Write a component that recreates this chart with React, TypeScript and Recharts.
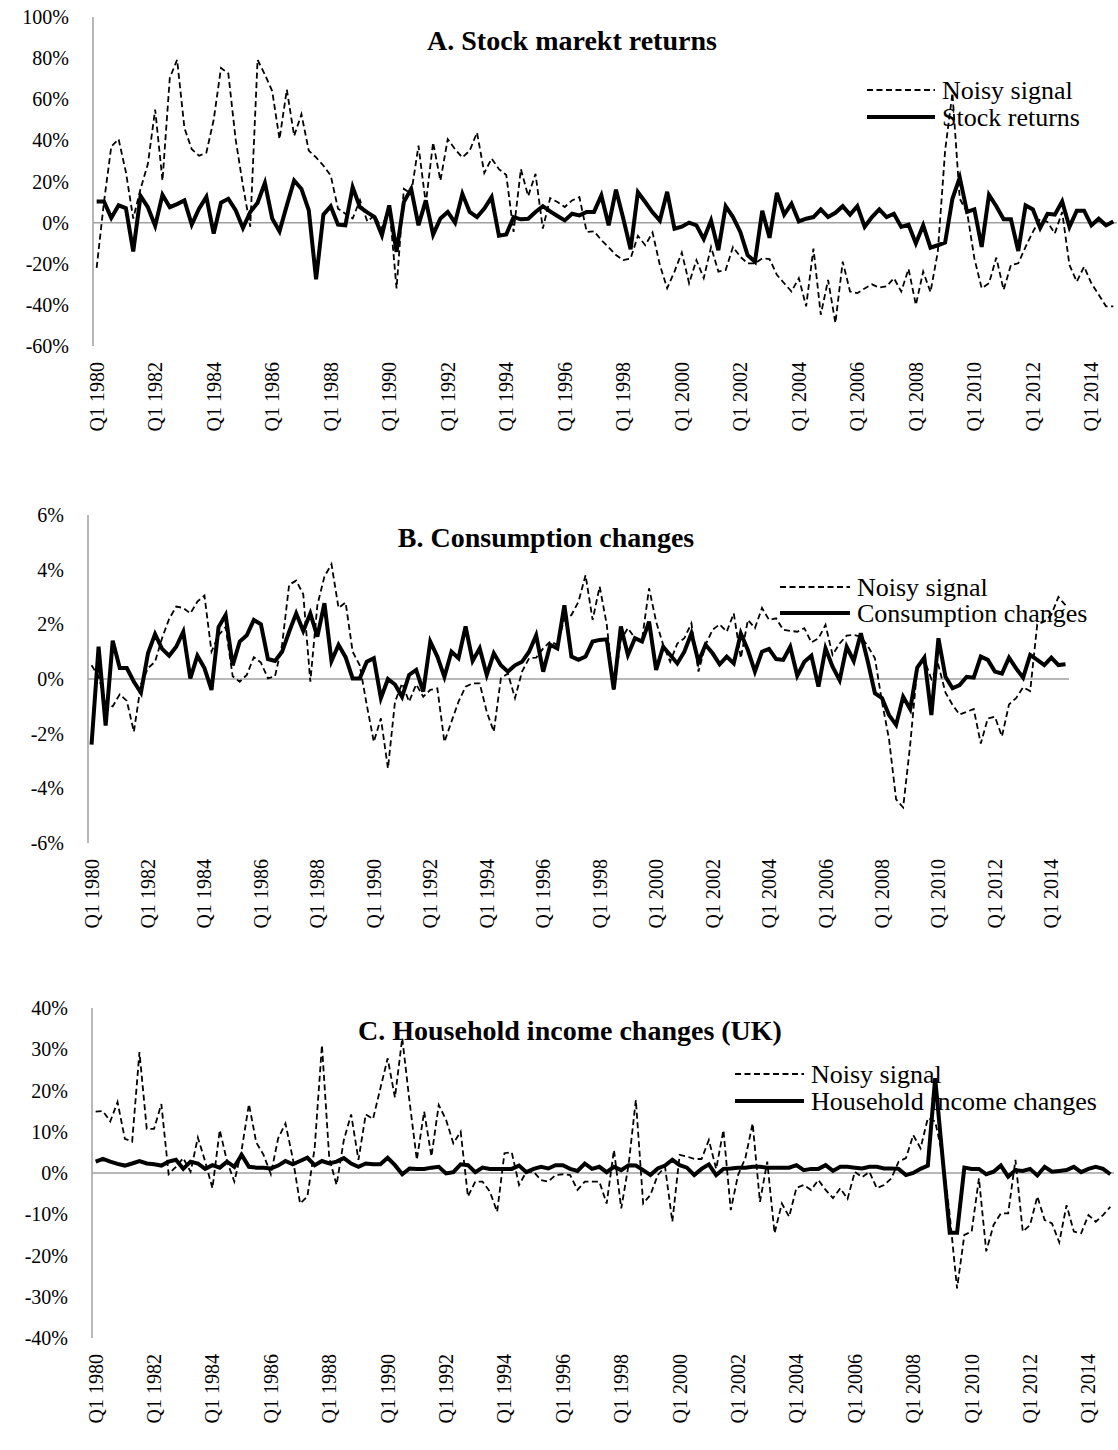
import React from "react";
import { LineChart, Line, XAxis, YAxis, ReferenceLine } from "recharts";

const FONT = '"Liberation Serif", "Times New Roman", serif';
const AXIS_GRAY = "#a0a0a0";

// quarterly categories, Q1 1980 onwards
const makeQuarters = (count: number) =>
  Array.from({ length: count }, (_, k) => `Q${(k % 4) + 1} ${1980 + Math.floor(k / 4)}`);

const quartersA = makeQuarters(140);
const quartersB = makeQuarters(139);
const quartersC = makeQuarters(140);

// A. stock market returns (%)
const stockNoisy = [
  -22, 10, 37, 40.6, 24.5, 2, 16.4, 28.5, 55, 20.4, 70.4, 79.2, 46, 35.7, 32.5, 34, 50, 75.2, 72.5, 40.6,
  18, -2, 79.2, 72, 64, 40.6, 64.7, 42.2, 52.7, 35, 31.7, 27.7, 22.9, 6.8, 4.3, 2, 11, 0.6, 3.5, -3,
  8.4, -32, 16.4, 14, 37.4, 9.2, 39, 20.4, 40.6, 35.7, 31.7, 35, 43.8, 24.2, 31.2, 26, 23.2, -4.5, 26, 12.9,
  23.7, -2.9, 11.9, 10, 7.6, 10.8, 12.4, -4.5, -4.2, -8.5, -12, -15.8, -18.2, -17.4, -6.4, -11, -4.8, -20.6, -31.9, -23.8,
  -14.5, -29.5, -18.2, -27, -11.8, -23.8, -23, -11.8, -16.6, -19.8, -19.8, -17.4, -17.7, -25.4, -29.5, -33.5, -27, -40.7, -12.6, -44.8,
  -27.9, -48.8, -19, -33.5, -34.3, -32, -30, -31.6, -31, -27, -33.5, -22.5, -40, -23.8, -33.8, -14.2, 35, 63, 11.6, 5.2,
  -17.4, -31.9, -29.5, -17, -32.7, -20.6, -19.8, -11.8, -4.5, 1.9, 0.3, -5.3, 5.2, -20.6, -28.7, -21.4, -29.5, -35.1, -40.7, -40.7,
];
const stockReturns = [
  10.3, 10.3, 2.3, 8.4, 7, -14, 13, 7.5, -1.6, 13.5, 7.5, 9, 10.8, -1, 6.8, 12.5, -5.3, 9.7, 11.6, 6,
  -2.6, 5.2, 9.7, 19.3, 2, -4.2, 8.4, 20.5, 16.4, 6, -27.5, 3.9, 8, -1, -1.3, 17.2, 7.5, 5, 2.7, -6.1,
  8.4, -14.2, 10, 16.4, -1.3, 10.8, -5.8, 2, 5.2, 0, 14, 5.2, 2.7, 6.8, 12.4, -6.4, -5.8, 2.7, 1.6, 1.9,
  5.2, 8, 5.5, 3.2, 1.1, 4.3, 3.5, 5.2, 5.2, 13.2, -1.3, 16, 2, -13, 14.8, 10, 5, 1, 15, -3,
  -2, 0, -1.3, -8, 1, -13.4, 8, 2.7, -4.5, -15.8, -19, 5.8, -7.4, 14.5, 3.9, 9.2, 0.6, 1.9, 2.7, 6.4,
  2.7, 4.8, 8, 3.9, 8, -2, 2.7, 6.4, 2.7, 4.3, -2.1, -1, -10.1, -1.3, -12.2, -11, -9.7, 11.6, 22, 5.2,
  6.4, -11.8, 13.5, 8, 1.6, 1.6, -13.8, 8.4, 6.4, -2.6, 4.3, 3.9, 10.3, -2.1, 5.8, 5.8, -1.3, 1.9, -1.3, 0.6,
];

// B. consumption changes (%)
const consNoisy = [
  0.5, 0.1, -0.9, -1.0, -0.56, -0.8, -1.93, -0.2, 0.4, 0.63, 1.5, 2.2, 2.65, 2.6, 2.4, 2.83, 3.05, 1.0, 1.6, 1.9,
  0.1, -0.1, 0.15, 0.8, 0.6, 0.02, 0.1, 1.25, 3.45, 3.6, 3.1, -0.1, 2.7, 3.75, 4.2, 2.6, 2.8, 1.0, 0.5, -0.95,
  -2.3, -1.44, -3.27, -0.83, -0.16, -0.83, -0.2, -0.65, -0.4, -0.34, -2.3, -1.56, -0.83, -0.28, -0.16, -0.16, -1.2, -1.93, 0.02, 0.2,
  -0.7, 0.27, 0.76, 0.78, 1.12, 1.37, 1.25, 2.2, 2.34, 2.83, 3.8, 2.16, 3.38, 2.0, -0.4, 1.43, 1.86, 1.49, 1.43, 3.32,
  2.1, 1.25, 0.63, 1.3, 1.49, 2.04, 0.27, 1.25, 1.8, 2.0, 1.73, 2.4, 0.76, 2.16, 1.86, 2.6, 2.16, 2.22, 1.8, 1.76,
  1.73, 1.86, 1.34, 1.49, 1.98, 0.88, 1.3, 1.59, 1.61, 1.55, 1.2, 0.76, -0.83, -2.2, -4.4, -4.7, -2.4, 0.4, 0.7, 0,
  0.5, -0.5, -0.95, -1.3, -1.2, -1.1, -2.36, -1.44, -1.38, -2.1, -0.93, -0.7, -0.3, -0.44, 2.0, 2.1, 2.35, 3.0, 2.7,
];
const consChanges = [
  -2.4, 1.18, -1.7, 1.4, 0.4, 0.4, -0.1, -0.5, 0.94, 1.64, 1.1, 0.85, 1.18, 1.73, 0.02, 0.85, 0.4, -0.4, 1.9, 2.34,
  0.5, 1.37, 1.6, 2.16, 2.0, 0.73, 0.66, 1.0, 1.73, 2.4, 1.76, 2.4, 1.55, 2.77, 0.66, 1.25, 0.8, 0.02, 0.02, 0.63,
  0.76, -0.7, 0, -0.2, -0.65, 0.15, 0.33, -0.46, 1.37, 0.82, 0.08, 1.0, 0.76, 1.92, 0.66, 1.12, 0.15, 0.94, 0.5, 0.27,
  0.5, 0.63, 1.0, 1.6, 0.27, 1.25, 1.12, 2.7, 0.82, 0.7, 0.82, 1.37, 1.43, 1.45, -0.38, 1.92, 0.88, 1.49, 1.37, 2.1,
  0.33, 1.18, 0.88, 0.57, 1.0, 1.67, 0.63, 1.25, 0.94, 0.54, 0.82, 0.57, 1.67, 1.06, 0.27, 1.0, 1.1, 0.73, 0.7, 1.18,
  0.12, 0.63, 0.85, -0.28, 1.12, 0.45, -0.04, 1.18, 0.66, 1.67, 0.63, -0.52, -0.7, -1.32, -1.68, -0.65, -1.1, 0.42, 0.78, -1.32,
  1.49, 0.08, -0.34, -0.22, 0.08, 0.05, 0.82, 0.7, 0.27, 0.2, 0.78, 0.39, 0.05, 0.88, 0.7, 0.51, 0.78, 0.51, 0.54,
];

// C. household income changes, UK (%)
const incomeNoisy = [
  14.9, 15, 12.5, 17.2, 8.3, 7.6, 29.3, 10.7, 10.7, 16.7, -0.3, 1.5, 3.6, 0.3, 8.6, 2.8, -3.7, 10.4, 2.8, -2.1,
  5.6, 16.7, 7.4, 4.4, -0.3, 8.4, 12, 3.6, -7.4, -5.7, 6, 31, 3.6, -2.9, 8, 14.2, 3.2, 14.2, 13.1, 20.5,
  27.8, 18.3, 32.7, 17.3, 3.2, 14.9, 4, 16.5, 12.9, 7.2, 10, -5.7, -2.1, -2.1, -4.5, -9.4, 4.8, 5, -2.9, 0.3,
  0.3, -1.7, -2.1, -0.5, -0.3, -0.5, -4.1, -2.1, -2.1, -2.1, -7.4, 5.6, -8.6, 1.9, 17.7, -7.4, -5.3, -0.5, 1.5, -11.8,
  4.4, 4, 3.4, 3.4, 8, 1, 10.4, -9, -0.5, 3.6, 12, -7, 2.75, -14.6, -7.4, -10.6, -3.6, -2.9, -4.1, -1.7,
  -4.1, -6.1, -3.7, -6.3, 0.3, -1, 0.3, -3.7, -2.9, -1.3, 2.75, 3.6, 9.2, 6, 13.3, 12.5, 4.4, -10.2, -28, -15,
  -14.2, -1.3, -19, -12.6, -9.8, -9.8, 3.2, -14.2, -12.6, -5.7, -11.4, -12.2, -16.8, -7.8, -14.2, -14.6, -10.2, -11.8, -10.2, -8.2,
];
const incomeChanges = [
  2.75, 3.4, 2.75, 2.2, 1.8, 2.3, 2.9, 2.3, 2.1, 1.8, 2.75, 3.2, 1.0, 2.75, 2.3, 1.0, 1.9, 1.3, 2.75, 1.5,
  4.4, 1.5, 1.3, 1.3, 1.1, 1.8, 2.9, 2.1, 2.9, 3.7, 1.9, 2.9, 2.3, 2.75, 3.6, 2.3, 1.5, 2.3, 2.1, 2.1,
  3.7, 1.9, -0.3, 1.1, 1.0, 1.0, 1.3, 1.5, -0.1, 0.2, 2.1, 1.9, 0.2, 1.3, 1.0, 1.0, 1.0, 1.0, 1.8, 0.2,
  1.0, 1.5, 1.1, 1.9, 1.9, 1.0, 0.5, 2.3, 1.0, 1.5, 0.2, 1.5, 0.7, 1.9, 1.8, 0.7, -0.5, 1.1, 1.8, 3.2,
  1.9, 1.3, -0.5, 1.0, 2.1, -0.5, 1.0, 1.1, 1.3, 1.3, 1.5, 1.5, 1.3, 1.3, 1.3, 1.3, 1.9, 0.7, 1.0, 1.0,
  1.9, 0.5, 1.5, 1.5, 1.3, 1.1, 1.5, 1.5, 1.1, 1.1, 1.0, -0.5, 0, 1.0, 1.8, 23, 4, -14.5, -14.5, 1.3,
  1.0, 1.0, -0.3, 0.3, 1.8, -0.9, 0.7, 0.5, 1.0, -0.6, 1.5, 0.3, 0.5, 0.7, 1.5, 0.2, 1.0, 1.5, 1.0, -0.3,
];

const ticksA = [-60, -40, -20, 0, 20, 40, 60, 80, 100];
const ticksB = [-6, -4, -2, 0, 2, 4, 6];
const ticksC = [-40, -30, -20, -10, 0, 10, 20, 30, 40];

const QuarterTick = (props: any) => {
  const { x, y, payload } = props;
  return (
    <text
      x={x}
      y={y}
      dy="0.35em"
      transform={`rotate(-90, ${x}, ${y})`}
      textAnchor="end"
      fontSize={20}
      fontFamily={FONT}
      fill="#000"
    >
      {payload.value}
    </text>
  );
};

type PanelProps = {
  top: number;
  height: number;
  plotTop: number;
  plotLeft: number;
  plotRight: number;
  plotBottom: number;
  labels: string[];
  noisy: number[];
  actual: number[];
  domain: [number, number];
  ticks: number[];
};

const Panel: React.FC<PanelProps> = ({
  top,
  height,
  plotTop,
  plotLeft,
  plotRight,
  plotBottom,
  labels,
  noisy,
  actual,
  domain,
  ticks,
}) => {
  const data = labels.map((q, k) => ({ q, noisy: noisy[k], actual: actual[k] }));
  const half = (plotRight - plotLeft) / labels.length / 2;
  return (
    <div style={{ position: "absolute", left: 0, top }}>
      <LineChart
        width={1118}
        height={height}
        data={data}
        margin={{ top: plotTop - top, right: 1118 - plotRight, bottom: 0, left: 0 }}
      >
        <XAxis
          dataKey="q"
          interval={7}
          axisLine={false}
          tickLine={false}
          tickSize={0}
          tickMargin={16}
          height={top + height - plotBottom}
          padding={{ left: half, right: half }}
          tick={<QuarterTick />}
        />
        <YAxis
          type="number"
          domain={domain}
          ticks={ticks}
          interval={0}
          width={plotLeft}
          tickLine={false}
          tickSize={0}
          tickMargin={24}
          axisLine={{ stroke: AXIS_GRAY, strokeWidth: 1.5 }}
          tickFormatter={(v) => `${v}%`}
          tick={{ fill: "#000", fontSize: 20, fontFamily: FONT }}
        />
        <ReferenceLine y={0} stroke={AXIS_GRAY} strokeWidth={1.5} />
        <Line
          type="linear"
          dataKey="noisy"
          stroke="#000"
          strokeWidth={1.8}
          strokeDasharray="6 3.5"
          dot={false}
          isAnimationActive={false}
        />
        <Line
          type="linear"
          dataKey="actual"
          stroke="#000"
          strokeWidth={4}
          dot={false}
          isAnimationActive={false}
        />
      </LineChart>
    </div>
  );
};

const LegendRows = ({ x, y1, y2, w, names }: { x: number; y1: number; y2: number; w: number; names: string[] }) => (
  <g fontFamily={FONT} fontSize={26}>
    <line x1={x} x2={x + w} y1={y1} y2={y1} stroke="#000" strokeWidth={1.8} strokeDasharray="6 3.5" />
    <line x1={x} x2={x + w} y1={y2} y2={y2} stroke="#000" strokeWidth={4} />
    <text x={x + w + 7} y={y1 + 9}>{names[0]}</text>
    <text x={x + w + 7} y={y2 + 9}>{names[1]}</text>
  </g>
);

const App = () => (
  <div style={{ position: "absolute", left: 0, top: 0, width: 1118, height: 1450, background: "#fff" }}>
    <svg width={1118} height={1450} style={{ position: "absolute", left: 0, top: 0 }}>
      <g fontFamily={FONT} fontSize={28} fontWeight="bold" textAnchor="middle">
        <text x={572} y={50}>A. Stock marekt returns</text>
        <text x={546} y={547}>B. Consumption changes</text>
        <text x={570} y={1040}>C. Household income changes (UK)</text>
      </g>
      <LegendRows x={867} y1={90} y2={117} w={68} names={["Noisy signal", "Stock returns"]} />
      <LegendRows x={780} y1={587} y2={613} w={70} names={["Noisy signal", "Consumption changes"]} />
      <LegendRows x={735} y1={1074} y2={1101} w={69} names={["Noisy signal", "Household income changes"]} />
    </svg>
    <Panel
      top={0}
      height={440}
      plotTop={17}
      plotLeft={93}
      plotRight={1117}
      plotBottom={346}
      labels={quartersA}
      noisy={stockNoisy}
      actual={stockReturns}
      domain={[-60, 100]}
      ticks={ticksA}
    />
    <Panel
      top={480}
      height={460}
      plotTop={515}
      plotLeft={88}
      plotRight={1069}
      plotBottom={843}
      labels={quartersB}
      noisy={consNoisy}
      actual={consChanges}
      domain={[-6, 6]}
      ticks={ticksB}
    />
    <Panel
      top={990}
      height={460}
      plotTop={1008}
      plotLeft={92}
      plotRight={1114}
      plotBottom={1338}
      labels={quartersC}
      noisy={incomeNoisy}
      actual={incomeChanges}
      domain={[-40, 40]}
      ticks={ticksC}
    />
  </div>
);

export default App;
